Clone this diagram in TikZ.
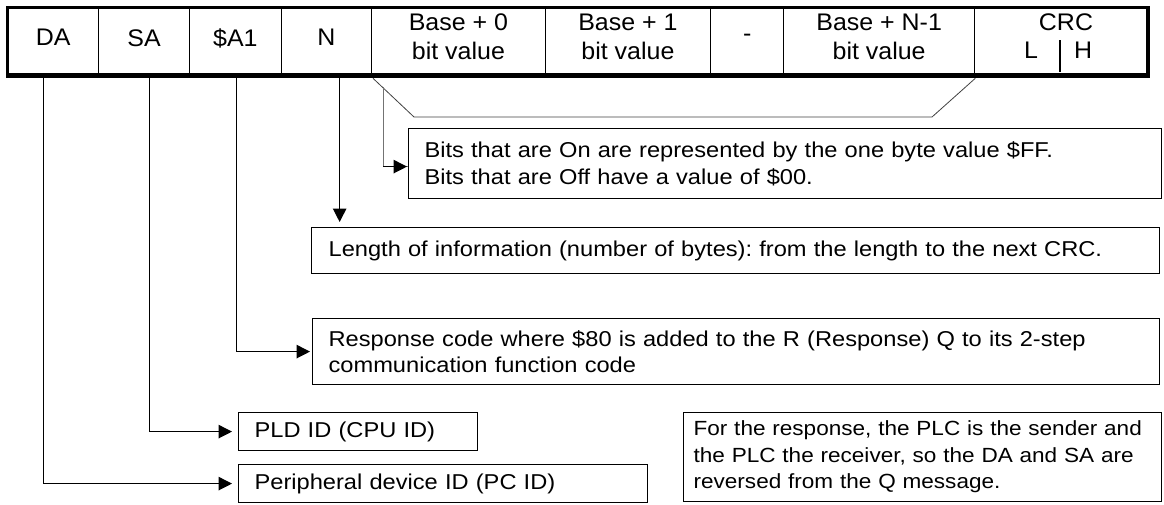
\documentclass[tikz,border=0pt]{standalone}
\usepackage{fontspec}
\setmainfont{Liberation Sans}
\newfontfamily\bodyfont{Liberation Sans}[FakeStretch=1.1]
\newfontfamily\topfont{Liberation Sans}[FakeStretch=1.04]
\usetikzlibrary{arrows.meta}
\begin{document}
\frenchspacing
\begin{tikzpicture}[x=1pt,y=-1pt,
  cell/.style={draw, line width=1.3pt, inner sep=0pt, minimum height=67pt, anchor=north west,
    align=center, text depth=8pt, font=\topfont\fontsize{24}{28.5}\selectfont},
  twoline/.style={inner sep=0pt, align=center, anchor=center, font=\topfont\fontsize{24}{28.5}\selectfont},
  toptext/.style={inner sep=0pt, anchor=base, font=\topfont\fontsize{24}{28.5}\selectfont},
  box/.style={draw, line width=1.2pt, inner xsep=16pt, inner ysep=0pt, anchor=north west,
    align=left, font=\bodyfont\fontsize{21.5}{26.5}\selectfont},
  arr/.style={line width=1.2pt, -{Triangle[length=13.5pt,width=13.5pt]}},
  bracket/.style={line width=0.8pt, black!75},
]
\useasboundingbox (0,0) rectangle (1164,504);

% --- frame cells ---
\node[cell, minimum width=90.2pt] (da)   at (7.5,7.5)   {DA};
\node[cell, minimum width=91.3pt] (sa)   at (97.7,7.5)  {SA};
\node[cell, minimum width=91.5pt] (a1)   at (189,7.5)   {\$A1};
\node[cell, minimum width=90.5pt] (n)    at (280.5,7.5) {N};
\node[cell, minimum width=173.6pt] (b0)  at (371,7.5)   {};
\node[cell, minimum width=165.4pt] (b1)  at (544.6,7.5) {};
\node[cell, minimum width=73pt] (dash)   at (710,7.5)   {-};
\node[cell, minimum width=191pt] (bn)    at (783,7.5)   {};
\node[cell, minimum width=173pt] (crc)   at (974,7.5)   {};
\node[twoline] (b0t) at ([yshift=5pt]b0.center) {Base + 0\\bit value};
\node[twoline] (b1t) at ([yshift=5pt]b1.center) {Base + 1\\bit value};
\node[twoline] (bnt) at ([yshift=5pt]bn.center) {Base + N-1\\bit value};
\node[toptext] (crcT) at (1066,30) {CRC};
\node[toptext] (crcL) at (1031,58.5) {L};
\node[toptext] (crcH) at (1083,58.5) {H};
\draw[line width=1.3pt] (1060,40) -- (1060,72);

% outer frame: thin top/left, heavy bottom/right
\draw[line width=2.6pt] (da.south west) |- (crc.north east);
\draw[line width=5pt] ([xshift=-1.3pt]da.south west) -- (crc.south east);
\draw[line width=4pt] ([yshift=1.3pt]crc.north east) -- ([yshift=-2.5pt]crc.south east);

% --- description boxes ---
\node[box, minimum width=753pt, minimum height=70pt, text width=721pt] (bits) at (408,128)
  {Bits that are On are represented by the one byte value \$FF.\\Bits that are Off have a value of \$00.};
\node[box, minimum width=848pt, minimum height=46pt, text width=814pt, inner xsep=17pt] (len) at (311,227)
  {Length of information (number of bytes): from the length to the next CRC.};
\node[box, minimum width=847pt, minimum height=66pt, text width=815pt] (resp) at (312,318)
  {Response code where \$80 is added to the R (Response) Q to its 2-step\\communication function code};
\node[box, minimum width=239pt, minimum height=38pt, text width=207pt] (pld) at (238,412)
  {PLD ID (CPU ID)};
\node[box, minimum width=409pt, minimum height=38pt, text width=377pt] (per) at (238,464)
  {Peripheral device ID (PC ID)};
\node[box, minimum width=478pt, minimum height=89pt, text width=458pt, inner xsep=10pt,
      font=\bodyfont\fontsize{20.5}{26.5}\selectfont] (note) at (683,412)
  {For the response, the PLC is the sender and\\the PLC the receiver, so the DA and SA are\\reversed from the Q message.};

% --- bracket under the bit-value fields ---
\coordinate (brL) at (414,117);
\coordinate (brR) at (932,117);
\coordinate (brP) at (383,87);
\draw[bracket] ([xshift=2pt,yshift=-2.5pt]b0.south west) -- (brL) -- (brR) -- ([yshift=-2.5pt]bn.south east);

% --- connectors ---
\draw[line width=1pt, black!55] (brP) |- ([yshift=-3pt]bits.west);
\draw[arr, shorten >=1pt] (brP |- bits.west) ++(0,3) -- ([yshift=-3pt]bits.west);
\draw[arr, shorten >=5pt] ([xshift=13.25pt,yshift=-2.5pt]n.south) -- ([xshift=13.25pt]n.south |- len.north);
\draw[arr, shorten >=2pt] ([xshift=1pt,yshift=-2.5pt]a1.south) |- (resp.west);
\draw[arr, shorten >=6pt] ([xshift=5.65pt,yshift=-2.5pt]sa.south) |- (pld.west);
\draw[arr, shorten >=6pt] ([xshift=-9.6pt,yshift=-2.5pt]da.south) |- (per.west);
\end{tikzpicture}
\end{document}
